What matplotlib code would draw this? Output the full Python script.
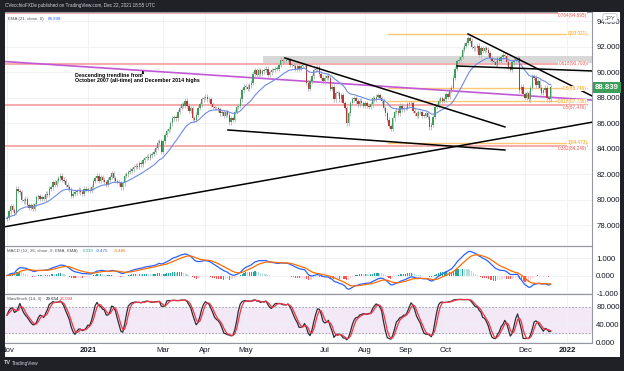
import numpy as np
import pandas as pd
import matplotlib.pyplot as plt
from matplotlib.patches import Rectangle

plt.rcParams['font.family'] = ['Liberation Sans', 'DejaVu Sans']

# daily closes CAD/JPY, one list per month
nov20 = [78.6, 79.1, 79.5, 79.2, 79.0, 80.9, 80.7, 80.6, 80.0, 79.9, 80.1, 79.6, 79.4, 79.6, 79.3, 79.7, 80.2, 80.3, 80.1, 80.2, 80.1]
dec20 = [80.5, 80.4, 80.9, 81.0, 81.4, 81.2, 81.5, 81.7, 81.9, 81.6, 81.5, 81.2, 81.0, 80.8, 80.3, 80.5, 80.6, 80.7, 80.8, 80.6, 80.5, 80.9, 80.8]
jan21 = [80.8, 80.7, 81.0, 81.5, 81.7, 81.9, 81.5, 81.8, 81.6, 81.4, 81.2, 81.6, 81.8, 82.1, 81.7, 81.5, 81.4, 81.3, 81.0, 81.3, 81.9]
feb21 = [82.0, 82.2, 82.3, 82.4, 82.6, 82.7, 82.6, 82.9, 82.8, 83.1, 83.3, 83.4, 83.3, 83.5, 83.6, 83.8, 84.1, 84.5, 84.6, 83.8]
mar21 = [84.6, 85.1, 85.4, 85.6, 86.0, 86.4, 86.5, 86.4, 86.9, 87.2, 87.5, 87.4, 87.8, 87.4, 87.0, 87.2, 86.4, 86.3, 86.7, 87.2, 87.5, 87.9, 88.0]
apr21 = [88.1, 87.9, 87.9, 87.5, 87.3, 87.2, 87.2, 87.1, 86.8, 86.9, 86.6, 86.9, 86.7, 86.1, 86.4, 86.3, 86.9, 87.3, 87.4, 87.9, 88.6, 88.9]
may21 = [88.9, 88.7, 89.0, 89.2, 89.9, 90.2, 89.8, 90.2, 89.9, 90.1, 90.2, 90.3, 89.8, 90.0, 90.2, 90.2, 90.3, 90.3, 90.6, 91.0, 90.9]
jun21 = [90.9, 91.0, 91.0, 90.6, 90.6, 90.5, 90.3, 90.5, 90.3, 90.5, 90.6, 90.6, 89.2, 88.7, 89.3, 89.7, 90.2, 90.3, 90.4, 89.9, 89.6, 89.3]
jul21 = [89.6, 89.7, 89.6, 88.7, 88.9, 87.9, 88.4, 88.4, 87.9, 88.2, 87.6, 87.2, 86.0, 86.8, 87.6, 87.9, 88.0, 87.8, 87.5, 87.8, 87.6, 87.4]
aug21 = [87.6, 87.4, 87.3, 87.5, 88.0, 87.9, 88.1, 88.2, 88.0, 87.8, 87.2, 86.8, 86.3, 85.8, 85.6, 86.4, 86.9, 87.0, 86.8, 87.4, 87.1, 87.2]
sep21 = [87.2, 87.5, 87.6, 87.6, 87.0, 86.8, 86.6, 86.9, 86.9, 86.6, 86.6, 86.8, 86.5, 85.7, 85.9, 86.5, 87.3, 87.4, 87.8, 88.0, 87.8, 87.9]
oct21 = [88.3, 88.1, 88.6, 88.8, 89.6, 90.3, 90.9, 91.0, 91.2, 91.8, 92.1, 92.3, 92.7, 92.5, 92.0, 91.9, 91.9, 92.1, 91.4, 91.9, 91.7]
nov21 = [91.9, 91.8, 91.5, 91.1, 90.9, 90.8, 90.6, 91.1, 90.9, 91.2, 91.4, 91.3, 90.8, 90.4, 90.2, 90.8, 91.0, 91.0, 91.1, 88.6, 88.9, 88.3]
dec21 = [88.0, 88.4, 87.9, 88.8, 89.7, 89.6, 89.0, 89.3, 88.8, 88.4, 88.6, 88.8, 88.0, 87.9, 88.839]
first_open = 78.5

month_ticks = ['2020-11-02', '2021-01-01', '2021-03-01', '2021-04-01', '2021-05-03', '2021-07-01',
               '2021-08-02', '2021-09-01', '2021-10-01', '2021-12-01', '2022-01-03']
month_labels = ['Nov', '2021', 'Mar', 'Apr', 'May', 'Jul', 'Aug', 'Sep', 'Oct', 'Dec', '2022']

# fib levels (price, label, label vertical alignment)
red_fibs = [(94.695, '0.764(94.695)', 'top'), (90.703, '0.618(90.703)', 'center'),
            (87.476, '0.5(87.476)', 'top'), (84.249, '0.382(84.249)', 'top')]
orange_fibs = [(93.021, '0(93.021)', 'center'), (88.746, '0.5(88.746)', 'center'),
               (87.738, '0.618(87.738)', 'center'), (84.473, '1(84.473)', 'center')]
orange_start = 207.5
# trendlines: (bar index, price) pairs
magenta_line = [(-1.1, 90.86), (318.5, 87.84)]
black_lines = [[(-1.1, 77.9), (318.5, 86.1)],
               [(151.3, 91.14), (271.1, 85.73)],
               [(120.3, 85.49), (271.1, 83.92)],
               [(251.0, 93.02), (318.5, 88.16)],
               [(245.0, 90.51), (318.5, 90.12)]]
zone_start, zone_low, zone_high = 139.4, 90.72, 91.33

closes = np.array(nov20 + dec20 + jan21 + feb21 + mar21 + apr21 + may21 + jun21 + jul21 + aug21 + sep21 + oct21 + nov21 + dec21)
dates = pd.bdate_range('2020-11-02', '2021-12-21')
n = len(closes)
idx = np.arange(n)
opens = np.r_[first_open, closes[:-1]]
wick = 0.18
highs = np.maximum(opens, closes) + wick
lows = np.minimum(opens, closes) - wick

# indicators
c = pd.Series(closes)
ema21 = c.ewm(span=21, adjust=False).mean()
macd = c.ewm(span=12, adjust=False).mean() - c.ewm(span=26, adjust=False).mean()
signal = macd.ewm(span=9, adjust=False).mean()
hist = macd - signal
ll = pd.Series(lows).rolling(14, min_periods=1).min()
hh = pd.Series(highs).rolling(14, min_periods=1).max()
raw = 100 * (c - ll) / (hh - ll)
k = raw.rolling(3, min_periods=1).mean()
d = k.rolling(3, min_periods=1).mean()

W, H = 624, 371
fig = plt.figure(figsize=(6.24, 3.71), dpi=100)
fig.patch.set_facecolor('#1f2127')
fig.patches.append(Rectangle((5 / W, 1 - 357 / H), 615 / W, 345 / H, transform=fig.transFigure,
                             facecolor='white', edgecolor='none', zorder=-5))

def rect(top, bottom):
    return [5 / W, 1 - bottom / H, 587 / W, (bottom - top) / H]

ax = fig.add_axes(rect(12, 246))
axm = fig.add_axes(rect(246, 294), sharex=ax)
axs = fig.add_axes(rect(294, 343), sharex=ax)

tick_pos = [dates.get_indexer([pd.Timestamp(t)])[0] if pd.Timestamp(t) <= dates[-1]
            else n - 1 + len(pd.bdate_range(dates[-1], t)) - 1 for t in month_ticks]

for a in (ax, axm, axs):
    a.set_facecolor('none')
    a.yaxis.tick_right()
    a.tick_params(axis='y', length=0, pad=3, labelsize=5.6, labelcolor='#131722')
    a.tick_params(axis='x', length=0)
    a.set_xticks(tick_pos)
    a.grid(True, color='#eef0f5', lw=0.6)
    a.set_axisbelow(True)
    a.spines['left'].set_visible(False)
    for s in ('top', 'bottom', 'right'):
        a.spines[s].set_color('#9598a1')
        a.spines[s].set_linewidth(0.8)
ax.tick_params(labelbottom=False)
axm.tick_params(labelbottom=False)
axs.set_xticklabels(month_labels)
axs.tick_params(axis='x', labelsize=5.6, labelcolor='#131722', pad=3)
for lab in axs.get_xticklabels():
    if lab.get_text().startswith('20'):
        lab.set_fontweight('bold')
ax.set_xlim(-1.1, 318.5)

# main pane
ax.set_ylim(76.39, 94.745)
ax.set_yticks(np.arange(78, 95, 2))
ax.yaxis.set_major_formatter(plt.FormatStrFormatter('%.3f'))

ax.add_patch(Rectangle((zone_start, zone_low), 318.5 - zone_start, zone_high - zone_low,
                       facecolor='#d4d4d4', edgecolor='none', alpha=0.9, zorder=1))
for p, lab, va in orange_fibs:
    ax.plot([orange_start, 315.9], [p, p], color='#ffc773', lw=1.0, zorder=2)
    ax.text(315.9, p, lab, color='#ff9800', fontsize=3.3, ha='right', va=va, zorder=6,
            bbox=dict(facecolor='white', edgecolor='none', pad=0.1))
for p, lab, va in red_fibs:
    ax.plot([-1.1, 315.9], [p, p], color='#f6a5a5', lw=1.3, zorder=2)
    ax.text(315.9, p, lab, color='#ef5350', fontsize=3.3, ha='right', va=va, zorder=6,
            bbox=dict(facecolor='white', edgecolor='none', pad=0.1))

ax.plot(*zip(*magenta_line), color='#c158d6', lw=1.2, zorder=3)

up = closes >= opens
ax.vlines(idx, lows, highs, color='#a8a8a8', lw=0.5, zorder=3)
ax.bar(idx, np.maximum(np.abs(closes - opens), 0.04), bottom=np.minimum(opens, closes), width=0.75,
       color=np.where(up, '#3d9e5c', '#b23a3a'), zorder=4)
ax.plot(idx, ema21, color='#6d8be3', lw=0.8, zorder=4)

for line in black_lines:
    ax.plot(*zip(*line), color='black', lw=1.1, zorder=5)

ax.text(37, 89.57, 'Descending trendline from\nOctober 2007 (all-time) and December 2014 highs',
        fontsize=3.8, fontweight='bold', ha='left', va='center', linespacing=1.2, zorder=6)
ax.annotate('', xy=(74, 90.12), xytext=(74, 89.85),
            arrowprops=dict(arrowstyle='-|>', lw=0.6, color='black', mutation_scale=3))

# last price tag
ax.annotate(f'{closes[-1]:.3f}', xy=(1.0, closes[-1]), xycoords=('axes fraction', 'data'),
            xytext=(2, 0), textcoords='offset points', fontsize=5.6, color='white', va='center',
            ha='left', fontweight='bold', annotation_clip=False,
            bbox=dict(boxstyle='square,pad=0.25', facecolor='#3d9e5c', edgecolor='none'))

# MACD pane
axm.set_ylim(-1.057, 1.686)
axm.set_yticks([1, 0, -1])
axm.yaxis.set_major_formatter(plt.FormatStrFormatter('%.3f'))
hcol = []
for i in range(n):
    prev = hist[i - 1] if i > 0 else 0
    if hist[i] >= 0:
        hcol.append('#26a69a' if hist[i] >= prev else '#b2dfdb')
    else:
        hcol.append('#ff5252' if hist[i] < prev else '#ffcdd2')
axm.bar(idx, hist, width=0.6, color=hcol)
axm.plot(idx, macd, color='#2962ff', lw=0.9)
axm.plot(idx, signal, color='#ff6d00', lw=0.9)

# Stoch pane
axs.set_ylim(-1.8, 108.7)
axs.set_yticks([80, 40, 0])
axs.yaxis.set_major_formatter(plt.FormatStrFormatter('%.3f'))
axs.axhspan(20, 80, color='#f3e8f6', zorder=0)
for lvl in (80, 20):
    axs.axhline(lvl, color='#9a9ca3', lw=0.6, ls=(0, (2, 2)))
axs.plot(idx, k, color='#2a2e39', lw=0.9)
axs.plot(idx, d, color='#f23645', lw=0.9)

def fx(x):
    return x / W

def fy(y):
    return 1 - y / H

# texts
fig.text(fx(5), fy(6), 'CVecchioFXDe published on TradingView.com, Dec 22, 2021 18:55 UTC',
         color='#d1d4dc', fontsize=3.3, va='center')
fig.text(fx(4), fy(363), 'TV', color='#d1d4dc', fontsize=4.0, va='center', fontweight='bold')
fig.text(fx(12), fy(363), 'TradingView', color='#d1d4dc', fontsize=3.4, va='center')

fs = 3.2
fig.text(fx(8), fy(19), 'EMA (21, close, 0)', color='#50535e', fontsize=fs, va='center')
fig.text(fx(48), fy(19), '88.998', color='#2962ff', fontsize=fs, va='center')
fig.text(fx(7), fy(251), 'MACD (12, 26, close, 9, EMA, EMA)', color='#50535e', fontsize=fs, va='center')
fig.text(fx(83), fy(251), '0.010', color='#26a69a', fontsize=fs, va='center')
fig.text(fx(96), fy(251), '-0.475', color='#2962ff', fontsize=fs, va='center')
fig.text(fx(114), fy(251), '-0.485', color='#ff6d00', fontsize=fs, va='center')
fig.text(fx(7), fy(299), 'SlowStoch (14, 3)', color='#50535e', fontsize=fs, va='center')
fig.text(fx(46), fy(299), '29.654', color='#131722', fontsize=fs, va='center')
fig.text(fx(60), fy(299), '26.094', color='#f23645', fontsize=fs, va='center')

fig.text(fx(610), fy(18), 'JPY', color='#50535e', fontsize=4.2, va='center', ha='center',
         bbox=dict(boxstyle='round,pad=0.3', facecolor='white', edgecolor='#b2b5be', lw=0.5))

fig.savefig('out.png', dpi=100, facecolor=fig.get_facecolor())
